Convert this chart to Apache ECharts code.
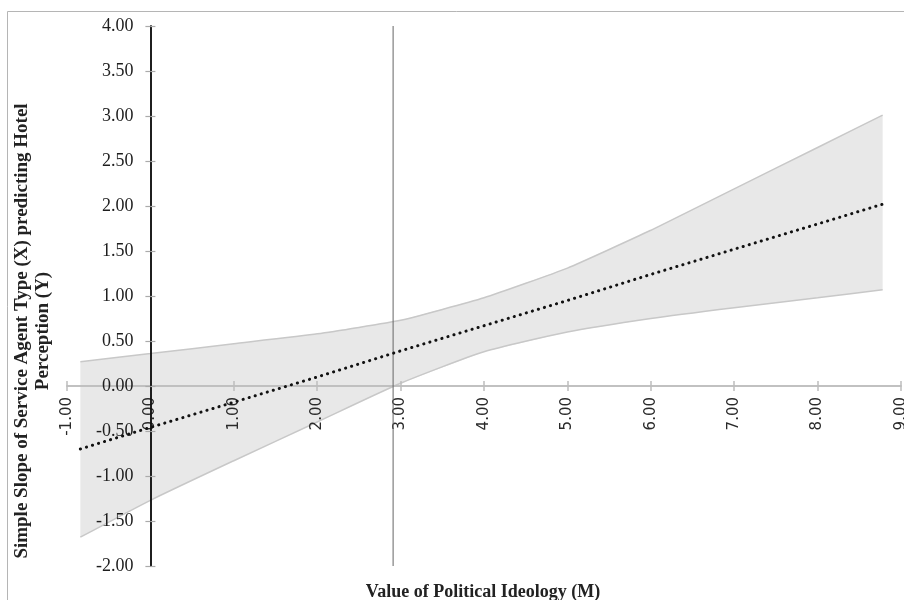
<!DOCTYPE html>
<html><head><meta charset="utf-8">
<script src="https://cdn.jsdelivr.net/npm/echarts@6/dist/echarts.min.js"></script>
<style>html,body{margin:0;padding:0;background:#fff}#c{width:904px;height:600px}</style>
</head><body><div id="c"></div>
<script>
// Data
const xValues     = [-0.84, 0, 1, 2, 3, 4, 5, 6, 7, 8, 8.78];
const slopeValues = [-0.70, -0.46, -0.18, 0.10, 0.39, 0.67, 0.95, 1.24, 1.52, 1.80, 2.02];
const lowerCI     = [-1.68, -1.27, -0.83, -0.40, 0.03, 0.38, 0.60, 0.75, 0.87, 0.98, 1.07];
const upperCI     = [0.27, 0.36, 0.47, 0.58, 0.73, 0.98, 1.31, 1.73, 2.19, 2.65, 3.01];
const refLineX    = 2.91;
const xAxisTicks  = { min: -1, max: 9, interval: 1 };
const yAxisTicks  = { min: -2, max: 4, interval: 0.5 };
const xTitle = 'Value of Political Ideology (M)';
const yTitle = 'Simple Slope of Service Agent Type (X) predicting Hotel\nPerception (Y)';

const pairs = (xs, ys) => xs.map((x, i) => [x, ys[i]]);
const fmt = v => v.toFixed(2);

// layout
const W = 904, H = 600;
const G = { left: 67, right: 3, top: 26, bottom: 34 };
const gridW = W - G.left - G.right, gridH = H - G.top - G.bottom;
// axes cross at zero: shift them from the grid edges to the zero position of the other axis
const zeroFromLeft = (0 - xAxisTicks.min) / (xAxisTicks.max - xAxisTicks.min) * gridW;
const zeroFromBottom = (0 - yAxisTicks.min) / (yAxisTicks.max - yAxisTicks.min) * gridH;

const chart = echarts.init(document.getElementById('c'), null, { renderer: 'canvas' });

const xLine = { show: true, onZero: false, lineStyle: { color: '#bdbdbd', width: 1.5 } };
const xTick = { show: true, length: 5, lineStyle: { color: '#bdbdbd', width: 1.5 } };
const yLine = { show: true, onZero: false, lineStyle: { color: '#111', width: 1.5 } };
const yTick = { show: true, length: 5, lineStyle: { color: '#aaaaaa', width: 1.2 } };

chart.setOption({
  backgroundColor: '#ffffff',
  animation: false,
  grid: { left: G.left, right: G.right, top: G.top, bottom: G.bottom, containLabel: false, outerBoundsMode: 'none' },
  xAxis: [
    {
      type: 'value', min: xAxisTicks.min, max: xAxisTicks.max, interval: xAxisTicks.interval,
      position: 'bottom', offset: -zeroFromBottom, z: 10,
      axisLine: xLine, axisTick: xTick,
      axisLabel: { rotate: 90, margin: 11, formatter: fmt, fontFamily: 'DejaVu Sans', fontSize: 15, color: '#2a2a2a' },
      splitLine: { show: false }
    },
    {
      type: 'value', min: xAxisTicks.min, max: xAxisTicks.max, interval: xAxisTicks.interval,
      position: 'top', offset: -(gridH - zeroFromBottom), z: 10,
      axisLine: xLine, axisTick: xTick, axisLabel: { show: false }, splitLine: { show: false }
    }
  ],
  yAxis: [
    {
      type: 'value', min: yAxisTicks.min, max: yAxisTicks.max, interval: yAxisTicks.interval,
      position: 'left', offset: -zeroFromLeft, z: 11,
      axisLine: yLine, axisTick: yTick,
      axisLabel: { margin: 17, formatter: fmt, fontFamily: 'Liberation Serif', fontSize: 18, color: '#1e1e1e' },
      splitLine: { show: false }
    },
    {
      type: 'value', min: yAxisTicks.min, max: yAxisTicks.max, interval: yAxisTicks.interval,
      position: 'right', offset: -(gridW - zeroFromLeft), z: 11,
      axisLine: yLine, axisTick: yTick, axisLabel: { show: false }, splitLine: { show: false }
    }
  ],
  series: [
    {
      name: 'band', type: 'custom', z: 1,
      data: [[xValues[0], lowerCI[0]]],
      encode: { x: 0, y: 1 },
      renderItem: function (params, api) {
        if (params.dataIndex !== 0) return null;
        const pts = [];
        for (let i = 0; i < xValues.length; i++) pts.push(api.coord([xValues[i], upperCI[i]]));
        for (let i = xValues.length - 1; i >= 0; i--) pts.push(api.coord([xValues[i], lowerCI[i]]));
        return { type: 'polygon', shape: { points: pts }, style: { fill: '#e8e8e8', stroke: null } };
      },
      silent: true
    },
    {
      name: 'upper', type: 'line', z: 2, data: pairs(xValues, upperCI), showSymbol: false, symbol: 'none',
      smooth: 0.15, lineStyle: { color: '#c8c8c8', width: 1.5 }, silent: true
    },
    {
      name: 'lower', type: 'line', z: 2, data: pairs(xValues, lowerCI), showSymbol: false, symbol: 'none',
      smooth: 0.2, lineStyle: { color: '#c8c8c8', width: 1.5 }, silent: true
    },
    {
      name: 'ref', type: 'line', z: 12, data: [[refLineX, yAxisTicks.min], [refLineX, yAxisTicks.max]],
      showSymbol: false, symbol: 'none', lineStyle: { color: '#666', width: 1 }, silent: true
    },
    {
      name: 'slope', type: 'line', z: 20, data: pairs(xValues, slopeValues), showSymbol: false, symbol: 'none',
      lineStyle: { color: '#111', width: 3, type: [0.2, 6.1], cap: 'round' }, silent: true
    }
  ],
  graphic: [
    { type: 'rect', z: 0, shape: { x: 7.5, y: 11.5, width: 910, height: 610 }, style: { fill: null, stroke: '#b5b5b5', lineWidth: 1 } },
    {
      type: 'text', x: 33, y: 331, rotation: Math.PI / 2, z: 30,
      style: { text: yTitle, fontFamily: 'Liberation Serif', fontWeight: 'bold', fontSize: 19, lineHeight: 21,
               align: 'center', verticalAlign: 'middle', fill: '#222' }
    },
    {
      type: 'text', x: 483, y: 592, z: 30,
      style: { text: xTitle, fontFamily: 'Liberation Serif', fontWeight: 'bold', fontSize: 18,
               align: 'center', verticalAlign: 'middle', fill: '#222' }
    }
  ]
});
</script>
</body></html>
